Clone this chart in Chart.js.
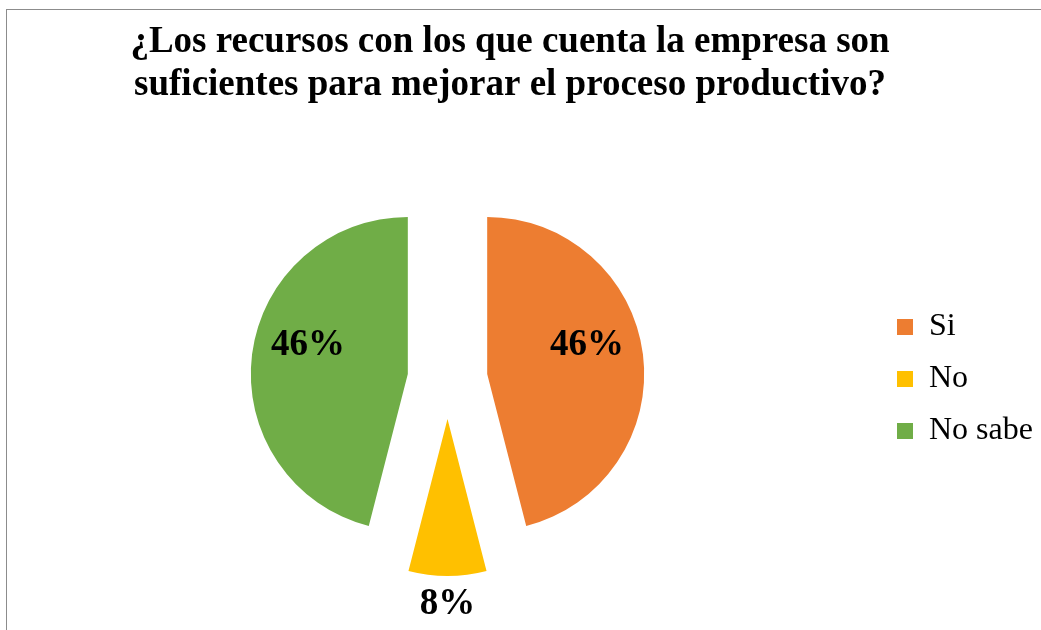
<!DOCTYPE html>
<html>
<head>
<meta charset="utf-8">
<script src="https://cdn.jsdelivr.net/npm/chart.js@4.4.1/dist/chart.umd.min.js"></script>
<style>
  body { margin: 0; background: #fff; }
  canvas { display: block; }
</style>
</head>
<body>
<canvas id="pie-chart" width="1041" height="630"></canvas>
<script>
const titleLines = ['¿Los recursos con los que cuenta la empresa son', 'suficientes para mejorar el proceso productivo?'];
const categories = ['Si', 'No', 'No sabe'];
const percentages = [46, 8, 46];
const sliceColors = ['#ED7D31', '#FFC000', '#70AD47'];

// how far each slice is pulled out, and where its % label sits
const explode = [40, 40, 40];
const labelRadius = [0.66, 1.18, 0.66];
const labelTilt = [-8.6, 0, 8.6]; // degrees

const ctx = document.getElementById('pie-chart').getContext('2d');

// light frame like the Excel chart area
const framePlugin = {
  id: 'frame',
  beforeDraw(chart) {
    const c = chart.ctx;
    c.save();
    c.fillStyle = '#fff';
    c.fillRect(0, 0, chart.width, chart.height);
    c.strokeStyle = '#8c8c8c';
    c.lineWidth = 1;
    c.strokeRect(6.5, 9.5, chart.width + 20, chart.height + 20);
    c.restore();
  },
  // legend box is kept narrow for layout, widen it so the text is not clipped
  afterLayout(chart) {
    if (chart.legend) {
      chart.legend.right += 80;
      chart.legend.width += 80;
    }
  }
};

// pull slices out from the centre (exploded pie)
const explodePlugin = {
  id: 'explode',
  afterDatasetUpdate(chart, args) {
    args.meta.data.forEach((arc, i) => {
      const mid = (arc.startAngle + arc.endAngle) / 2;
      arc.x += Math.cos(mid) * explode[i];
      arc.y += Math.sin(mid) * explode[i];
    });
  }
};

// percentage labels
const labelPlugin = {
  id: 'pctLabels',
  afterDatasetsDraw(chart) {
    const c = chart.ctx;
    const meta = chart.getDatasetMeta(0);
    const total = percentages.reduce((a, b) => a + b, 0);
    c.save();
    c.font = 'bold 37px "Liberation Serif", "Times New Roman", serif';
    c.fillStyle = '#000';
    c.textAlign = 'center';
    c.textBaseline = 'middle';
    meta.data.forEach((arc, i) => {
      const ang = (arc.startAngle + arc.endAngle) / 2 + labelTilt[i] * Math.PI / 180;
      const r = arc.outerRadius * labelRadius[i];
      const x = arc.x + Math.cos(ang) * r;
      const y = arc.y + Math.sin(ang) * r;
      c.fillText(Math.round(percentages[i] / total * 100) + '%', x, y);
    });
    c.restore();
  }
};

const pieChart = new Chart(ctx, {
  type: 'pie',
  data: {
    labels: categories,
    datasets: [{
      data: percentages,
      backgroundColor: sliceColors,
      borderWidth: 0,
      hoverBorderWidth: 0,
      hoverOffset: 0
    }]
  },
  options: {
    responsive: false,
    animation: false,
    layout: {
      padding: { left: 18, right: 39, top: 0, bottom: 94 }
    },
    plugins: {
      title: {
        display: true,
        text: titleLines,
        color: '#000',
        font: { family: '"Liberation Serif", "Times New Roman", serif', size: 37, weight: 'bold', lineHeight: '43px' },
        padding: { top: 21, bottom: 115 }
      },
      legend: {
        position: 'right',
        fullSize: false,
        maxWidth: 125,
        labels: {
          color: '#000',
          boxWidth: 16,
          boxHeight: 16,
          padding: 20,
          font: { family: '"Liberation Serif", "Times New Roman", serif', size: 32 }
        }
      },
      tooltip: { enabled: false }
    }
  },
  plugins: [framePlugin, explodePlugin, labelPlugin]
});
</script>
</body>
</html>
